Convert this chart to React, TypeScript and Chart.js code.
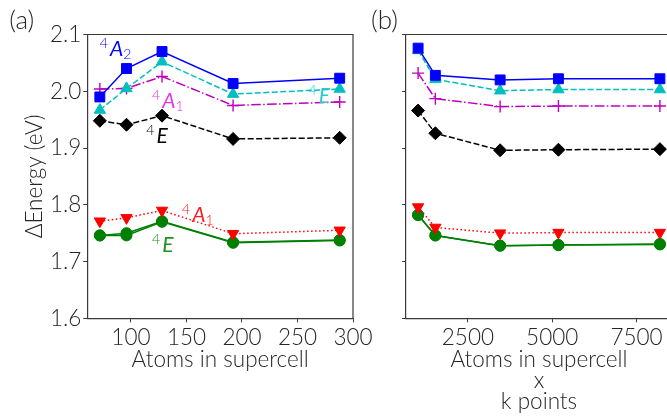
import React, { useEffect, useRef } from "react";
import { Chart, registerables } from "chart.js";

Chart.register(...registerables);

// ---------- data ----------
const atomsA = [72, 96, 128, 192, 288];
const aA2 = [1.99, 2.04, 2.07, 2.0136, 2.023]; // blue squares
const aEc = [1.967, 2.005, 2.052, 1.995, 2.004]; // cyan triangles
const aA1m = [2.004, 2.005, 2.026, 1.975, 1.981]; // magenta plus
const aEk = [1.948, 1.941, 1.957, 1.916, 1.918]; // black diamonds
const aA1r = [1.771, 1.777, 1.79, 1.749, 1.755]; // red down-triangles
const aEg = [1.746, 1.746, 1.77, 1.733, 1.737]; // green circles
const aEg2 = [1.746, 1.75, 1.771, 1.734, 1.738]; // green circles (second component)

const kpts = [1024, 1536, 3456, 5184, 8192];
const bA2 = [2.076, 2.028, 2.02, 2.022, 2.022];
const bEc = [2.072, 2.021, 2.001, 2.003, 2.003];
const bA1m = [2.032, 1.987, 1.973, 1.974, 1.974];
const bEk = [1.966, 1.926, 1.896, 1.897, 1.898];
const bA1r = [1.796, 1.76, 1.75, 1.751, 1.751];
const bEg = [1.782, 1.746, 1.728, 1.729, 1.73];
const bEg2 = [1.782, 1.746, 1.728, 1.729, 1.731];

const yTicks = [1.6, 1.7, 1.8, 1.9, 2.0, 2.1];
const xTicksA = [100, 150, 200, 250, 300];
const xTicksB = [2500, 5000, 7500];

const yLabel = "ΔEnergy (eV)";
const xLabelA = "Atoms in supercell";
const xLabelB = ["Atoms in supercell", "x", "k points"];

// annotations: [x, y, color, main, sub]
const annotA: [number, number, string, string, string][] = [
  [72, 2.063, "#0000ff", "A", "2"],
  [119, 1.971, "#ea33ea", "A", "1"],
  [113.8, 1.909, "#000000", "E", ""],
  [260, 1.979, "#2ccaca", "E", ""],
  [146, 1.77, "#ff1a1a", "A", "1"],
  [119, 1.716, "#1f8f1f", "E", ""],
];

// ---------- styles ----------
const FONT = "Lato";
const FW = 300;
const FS = 22.5;
const TXT = "#262626";
const SPINE = "#3a3a3a";

type Style = { color: string; point: any; radius: number; dash: number[]; rot?: number; pbw?: number };
const S_BLUE: Style = { color: "#0000ff", point: "rect", radius: 7, dash: [] };
const S_CYAN: Style = { color: "#00bfbf", point: "triangle", radius: 6.5, dash: [6, 2.5] };
const S_MAG: Style = { color: "#bf00bf", point: "cross", radius: 6, dash: [9.6, 2.4, 1.5, 2.4], pbw: 1.4 };
const S_BLK: Style = { color: "#000000", point: "rectRot", radius: 6.5, dash: [6, 2.5] };
const S_RED: Style = { color: "#ff0000", point: "triangle", radius: 6.5, dash: [1.5, 2.5], rot: 180 };
const S_GRN: Style = { color: "#008000", point: "circle", radius: 5.5, dash: [] };

function ds(xs: number[], ys: number[], s: Style) {
  return {
    data: xs.map((x, i) => ({ x, y: ys[i] })),
    borderColor: s.color,
    backgroundColor: s.color,
    borderWidth: 1.5,
    borderDash: s.dash,
    pointStyle: s.point,
    pointRadius: s.radius,
    pointRotation: s.rot || 0,
    pointBackgroundColor: s.color,
    pointBorderColor: s.color,
    pointBorderWidth: s.pbw || 1,
    tension: 0,
    fill: false,
  };
}

function frame(rightSpine: boolean) {
  return {
    id: "frame",
    afterDraw(chart: any) {
      const { ctx, chartArea: c } = chart;
      ctx.save();
      ctx.strokeStyle = SPINE;
      ctx.lineWidth = 1.2;
      ctx.beginPath();
      ctx.moveTo(c.left, c.top);
      ctx.lineTo(c.right, c.top);
      if (rightSpine) ctx.lineTo(c.right, c.bottom);
      ctx.stroke();
      ctx.restore();
    },
  };
}

function panelLabel(text: string, dx: number) {
  return {
    id: "panelLabel",
    afterDraw(chart: any) {
      const { ctx, chartArea: c } = chart;
      ctx.save();
      ctx.fillStyle = TXT;
      ctx.font = `${FW} 26px ${FONT}`;
      ctx.textBaseline = "alphabetic";
      ctx.fillText(text, c.left - dx, c.top - 6);
      ctx.restore();
    },
  };
}

function annotations(list: [number, number, string, string, string][]) {
  return {
    id: "annots",
    afterDatasetsDraw(chart: any) {
      const { ctx, scales } = chart;
      ctx.save();
      ctx.textBaseline = "alphabetic";
      for (const [x, y, color, main, sub] of list) {
        let px = scales.x.getPixelForValue(x);
        const py = scales.y.getPixelForValue(y);
        ctx.fillStyle = color;
        ctx.font = `${FW} 14px ${FONT}`;
        ctx.fillText("4", px, py - 8);
        px += ctx.measureText("4").width + 2;
        ctx.font = `italic 400 21px ${FONT}`;
        ctx.fillText(main, px, py);
        px += ctx.measureText(main).width;
        if (sub) {
          ctx.font = `${FW} 14px ${FONT}`;
          ctx.fillText(sub, px, py + 3);
        }
      }
      ctx.restore();
    },
  };
}

function yScale(width: number, showLabels: boolean, showTitle: boolean) {
  return {
    type: "linear",
    min: 1.6,
    max: 2.1,
    afterBuildTicks: (s: any) => {
      s.ticks = yTicks.map((v) => ({ value: v }));
    },
    afterFit: (s: any) => {
      s.width = width;
    },
    grid: { drawOnChartArea: false, drawTicks: true, tickLength: 4, color: SPINE, lineWidth: 1 },
    border: { display: true, color: SPINE, width: 1.2 },
    ticks: {
      font: { family: FONT, size: FS, weight: FW },
      color: TXT,
      padding: 2,
      callback: (v: any) => (showLabels ? Number(v).toFixed(1) : ""),
    },
    title: {
      display: showTitle,
      text: yLabel,
      color: TXT,
      font: { family: FONT, size: FS, weight: FW, lineHeight: 1.2 },
      padding: { top: 21.5, bottom: 0 },
    },
  };
}

function xScale(min: number, max: number, ticks: number[], title: any, pb: number, lh: number) {
  return {
    type: "linear",
    min,
    max,
    afterBuildTicks: (s: any) => {
      s.ticks = ticks.map((v) => ({ value: v }));
    },
    afterFit: (s: any) => {
      s.height = 416 - 318.3;
    },
    grid: { drawOnChartArea: false, drawTicks: true, tickLength: 4, color: SPINE, lineWidth: 1 },
    border: { display: true, color: SPINE, width: 1.2 },
    ticks: {
      font: { family: FONT, size: FS, weight: FW },
      color: TXT,
      padding: 2,
      maxRotation: 0,
      autoSkip: false,
      callback: (v: any) => String(v),
    },
    title: {
      display: true,
      text: title,
      color: TXT,
      font: { family: FONT, size: FS, weight: FW, lineHeight: lh },
      padding: { top: 0, bottom: pb },
    },
  };
}

export default function App() {
  const refA = useRef<HTMLCanvasElement>(null);
  const refB = useRef<HTMLCanvasElement>(null);

  useEffect(() => {
    const chartA = new Chart(refA.current as HTMLCanvasElement, {
      type: "line",
      data: {
        datasets: [
          ds(atomsA, aA2, S_BLUE),
          ds(atomsA, aEc, S_CYAN),
          ds(atomsA, aA1m, S_MAG),
          ds(atomsA, aEk, S_BLK),
          ds(atomsA, aA1r, S_RED),
          ds(atomsA, aEg, S_GRN),
          ds(atomsA, aEg2, S_GRN),
        ] as any,
      },
      options: {
        responsive: false,
        animation: false,
        devicePixelRatio: 1,
        layout: { padding: { top: 34.5, right: 27, bottom: 0, left: 0 } },
        plugins: { legend: { display: false }, tooltip: { enabled: false } },
        scales: {
          x: xScale(60.7, 300, xTicksA, xLabelA, 42.5, 1.2),
          y: yScale(87.3, true, true),
        } as any,
      },
      plugins: [frame(true), panelLabel("(a)", 78), annotations(annotA)],
    });

    const chartB = new Chart(refB.current as HTMLCanvasElement, {
      type: "line",
      data: {
        datasets: [
          ds(kpts, bA2, S_BLUE),
          ds(kpts, bEc, S_CYAN),
          ds(kpts, bA1m, S_MAG),
          ds(kpts, bEk, S_BLK),
          ds(kpts, bA1r, S_RED),
          ds(kpts, bEg, S_GRN),
          ds(kpts, bEg2, S_GRN),
        ] as any,
      },
      options: {
        responsive: false,
        animation: false,
        devicePixelRatio: 1,
        layout: { padding: { top: 34.5, right: 18, bottom: 0, left: 0 } },
        plugins: { legend: { display: false }, tooltip: { enabled: false } },
        scales: {
          x: xScale(665.6, 8550.4, xTicksB, xLabelB, 3.5, 0.933),
          y: yScale(46, false, false),
        } as any,
      },
      plugins: [frame(true), panelLabel("(b)", 35)],
    });

    return () => {
      chartA.destroy();
      chartB.destroy();
    };
  }, []);

  return (
    <div
      style={{
        position: "fixed",
        left: 0,
        top: 0,
        width: 667,
        height: 416,
        overflow: "hidden",
        background: "#ffffff",
      }}
    >
      <canvas
        ref={refA}
        width={380}
        height={416}
        style={{ position: "absolute", left: 0, top: 0, width: 380, height: 416 }}
      />
      <canvas
        ref={refB}
        width={330}
        height={416}
        style={{ position: "absolute", left: 360, top: 0, width: 330, height: 416 }}
      />
    </div>
  );
}
